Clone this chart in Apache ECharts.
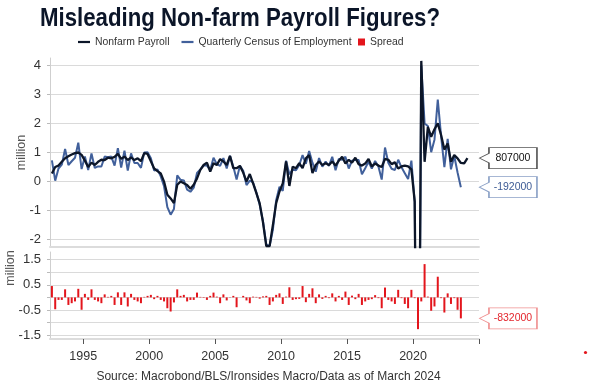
<!DOCTYPE html>
<html><head><meta charset="utf-8">
<script src="https://cdn.jsdelivr.net/npm/echarts@6/dist/echarts.min.js"></script>
<style>html,body{margin:0;padding:0;background:#fff;}#chart{width:589px;height:383px;}</style>
</head><body><div id="chart"></div>
<script>
// ---- data (millions, quarterly, first point = 1992 Q3) ----
const firstQuarter = { year: 1992, quarter: 3 };
const nonfarmPayroll = [
0.28,0.5,0.55,0.68,0.8,0.87,0.93,0.98,1.0,0.92,
0.72,0.5,0.65,0.57,0.68,0.75,0.74,0.82,0.8,0.85,
0.95,0.78,0.86,0.74,0.83,0.74,0.8,0.7,0.98,0.95,
0.7,0.45,0.36,0.28,0.0,-0.45,-0.58,-0.74,-0.11,0.0,
-0.06,-0.12,-0.25,-0.11,0.11,0.4,0.57,0.65,0.34,0.63,
0.57,0.77,0.69,0.57,0.88,0.46,0.46,0.54,0.31,0.0,
0.26,-0.06,-0.4,-0.75,-1.4,-2.22,-2.22,-1.5,-0.74,-0.34,
-0.06,0.69,-0.15,0.51,0.46,0.63,0.46,0.8,0.91,0.29,
0.57,0.69,0.57,0.63,0.57,0.69,0.55,0.72,0.85,0.62,
0.75,0.65,0.82,0.6,0.55,0.62,0.78,0.52,0.62,0.55,
0.5,0.78,0.75,0.6,0.66,0.45,0.52,0.55,0.52,0.42,
-0.68,-13.1,4.15,0.68,1.88,1.54,1.8,2.0,1.6,1.1,
1.31,0.68,0.91,0.8,0.64,0.63,0.807];
const quarterlyCensus = [
0.73,0.03,0.45,0.58,1.12,0.57,0.70,0.82,1.34,0.43,
0.86,0.40,0.97,0.47,0.52,0.52,0.86,0.84,0.86,0.55,
1.15,0.48,1.06,0.38,0.97,0.64,0.64,0.47,1.00,1.01,
0.80,0.38,0.42,0.18,-0.16,-0.88,-1.14,-0.94,0.21,0.06,
0.04,-0.28,-0.35,-0.21,0.30,0.42,0.55,0.55,0.40,0.82,
0.60,0.54,0.81,0.45,0.89,0.52,0.07,0.54,0.37,-0.12,
0.03,-0.03,-0.38,-0.80,-1.36,-2.16,-2.22,-1.66,-0.64,-0.18,
-0.32,0.72,0.25,0.41,0.39,0.57,0.91,0.61,1.05,0.65,
0.34,0.81,0.51,0.69,0.54,0.85,0.39,0.78,0.75,0.85,
0.45,0.72,0.75,0.74,0.25,0.46,0.68,0.45,0.71,0.52,
0.07,1.17,0.65,0.44,0.40,0.75,0.49,0.29,0.09,0.72,
-0.71,-14.36,3.99,2.00,1.91,1.01,1.44,2.82,1.57,0.50,
1.47,0.42,0.88,0.31,-0.192];
const spread = [
0.45,-0.47,-0.1,-0.1,0.32,-0.3,-0.23,-0.16,0.34,-0.49,
0.14,-0.1,0.32,-0.1,-0.16,-0.23,0.12,0.02,0.06,-0.3,
0.2,-0.3,0.2,-0.36,0.14,-0.1,-0.16,-0.23,0.02,0.06,
0.1,-0.07,0.06,-0.1,-0.16,-0.43,-0.56,-0.2,0.32,0.06,
0.1,-0.16,-0.1,-0.1,0.19,0.02,-0.02,-0.1,0.06,0.19,
0.03,-0.23,0.12,-0.12,0.01,0.06,-0.39,0.0,0.06,-0.12,
-0.23,0.03,0.02,-0.05,0.04,0.06,-0.3,-0.16,0.1,0.16,
-0.26,0.03,0.4,-0.1,-0.07,-0.06,0.45,-0.19,0.14,0.36,
-0.23,0.12,-0.06,0.06,-0.03,0.16,-0.16,0.06,-0.1,0.23,
-0.3,0.07,-0.07,0.14,-0.3,-0.16,-0.1,-0.07,0.09,-0.03,
-0.43,0.39,-0.1,-0.16,-0.26,0.3,-0.03,-0.26,-0.43,0.3,
-0.03,-1.26,-0.16,1.32,0.03,-0.53,-0.36,0.82,-0.03,-0.6,
0.16,-0.26,-0.03,-0.49,-0.832];
const xTickYears = [1995, 2000, 2005, 2010, 2015, 2020, 2025];
const xLabelYears = [1995, 2000, 2005, 2010, 2015, 2020];
const topTicks = [-2, -1, 0, 1, 2, 3, 4];
const bottomTicks = [-1.5, -1, -0.5, 0, 0.5, 1, 1.5];
const bottomLabels = [-1.5, -0.5, 0.5, 1.5];
const titleText = 'Misleading Non-farm Payroll Figures?';
const sourceText = 'Source: Macrobond/BLS/Ironsides Macro/Data as of March 2024';

// ---- helpers ----
function quarterMid(i) {
  return firstQuarter.year + (firstQuarter.quarter - 1) * 0.25 + 0.125 + i * 0.25;
}
const RF = '"Liberation Sans", Arial, sans-serif';
const TITLE_FONT = 'bold 26px ' + RF;
const titleScale = (function () {
  const c = document.createElement('canvas').getContext('2d');
  c.font = TITLE_FONT;
  return 400 / c.measureText(titleText).width;
})();

const BLACK = '#0c1629', BLUE = '#41609b', RED = '#e3151c';
const CALLOUT = 'path://M0,10.5 L9.5,5.7 L9.5,0 L57.5,0 L57.5,21 L9.5,21 L9.5,15.3 Z';
const LINE_ICON = 'path://M0,0H12V2.2H0Z';
const X_MIN = 1992.48, X_MAX = 2025;
const legendText = { fontFamily: RF, fontSize: 10.4, color: '#333' };

function callout(value, border, textColor) {
  return {
    symbol: CALLOUT, symbolSize: [57.5, 21], symbolOffset: [29.2, 0], symbolKeepAspect: false,
    silent: true, animation: false,
    itemStyle: { color: '#fff', borderColor: border, borderWidth: 1 },
    label: { show: true, position: 'inside', offset: [4.7, 0], formatter: String(Math.round(value * 1e6)),
             fontFamily: RF, fontSize: 10.5, color: textColor },
    data: [{ coord: [X_MAX, value] }]
  };
}

const chart = echarts.init(document.getElementById('chart'), null, { renderer: 'canvas' });
const option = {
  animation: false,
  backgroundColor: '#fff',
  legend: [
    { left: 78, top: 37, padding: 0, itemWidth: 12, itemHeight: 7, itemGap: 12, textStyle: legendText,
      data: [{ name: 'Nonfarm Payroll', icon: LINE_ICON }, { name: 'Quarterly Census of Employment', icon: LINE_ICON }] },
    { left: 358, top: 37, padding: 0, itemWidth: 7, itemHeight: 7, textStyle: legendText,
      data: [{ name: 'Spread', icon: 'rect' }] }
  ],
  grid: [
    { left: 50, top: 58, width: 429, height: 189 },
    { left: 50, top: 252, width: 429, height: 87 }
  ],
  xAxis: [
    { type: 'value', gridIndex: 0, min: X_MIN, max: X_MAX,
      axisLine: { show: true, onZero: false, lineStyle: { color: '#dcdcdc', width: 2 } },
      axisTick: { show: false }, axisLabel: { show: false }, splitLine: { show: false } },
    { type: 'value', gridIndex: 1, min: X_MIN, max: X_MAX,
      axisLine: { show: true, onZero: false, lineStyle: { color: '#dcdcdc', width: 2 } },
      axisTick: { show: true, length: 5, lineStyle: { color: '#555' }, customValues: xTickYears },
      axisLabel: { show: true, customValues: xLabelYears, margin: 11, fontFamily: RF, fontSize: 12.5, color: '#333',
                   formatter: v => String(Math.round(v)) },
      splitLine: { show: false } }
  ],
  yAxis: [
    { type: 'value', gridIndex: 0, min: -2.25, max: 4.25,
      axisLine: { show: true, lineStyle: { color: '#cfcfcf' } },
      axisTick: { show: true, length: 3, lineStyle: { color: '#bbb' }, customValues: topTicks },
      axisLabel: { show: true, customValues: topTicks, margin: 9, fontFamily: RF, fontSize: 13, color: '#333',
                   formatter: v => String(v) },
      splitLine: { show: true, lineStyle: { color: '#dadada', width: 1 } } },
    { type: 'value', gridIndex: 1, min: -1.65, max: 1.8,
      axisLine: { show: true, lineStyle: { color: '#cfcfcf' } },
      axisTick: { show: true, length: 3, lineStyle: { color: '#bbb' }, customValues: bottomTicks },
      axisLabel: { show: true, customValues: bottomLabels, margin: 9, fontFamily: RF, fontSize: 13, color: '#333',
                   formatter: v => String(v) },
      splitLine: { show: true, lineStyle: { color: '#dadada', width: 1 } } }
  ],
  series: [
    { name: 'Quarterly Census of Employment', type: 'line', xAxisIndex: 0, yAxisIndex: 0, z: 2,
      data: quarterlyCensus.map((v, i) => [quarterMid(i), v]),
      symbol: 'none', lineStyle: { color: BLUE, width: 2 }, itemStyle: { color: BLUE },
      markPoint: callout(quarterlyCensus[quarterlyCensus.length - 1], '#8aa0c6', '#3d5b95') },
    { name: 'Nonfarm Payroll', type: 'line', xAxisIndex: 0, yAxisIndex: 0, z: 3,
      data: nonfarmPayroll.map((v, i) => [quarterMid(i), v]),
      symbol: 'none', lineStyle: { color: BLACK, width: 2.3 }, itemStyle: { color: BLACK },
      markPoint: callout(nonfarmPayroll[nonfarmPayroll.length - 1], '#555', '#111') },
    { name: 'Spread', type: 'bar', xAxisIndex: 1, yAxisIndex: 1,
      data: spread.map((v, i) => [quarterMid(i), v]),
      barWidth: 2, itemStyle: { color: RED },
      markPoint: callout(spread[spread.length - 1], '#f09090', '#e3262d') }
  ],
  graphic: [
    { type: 'text', x: 40, y: 18.5, scaleX: titleScale, silent: true,
      style: { text: titleText, align: 'left', verticalAlign: 'middle', font: TITLE_FONT, fill: '#0b1528' } },
    { type: 'text', x: 21.5, y: 152.5, rotation: Math.PI / 2, silent: true,
      style: { text: 'million', align: 'center', verticalAlign: 'middle', font: '12.5px ' + RF, fill: '#555' } },
    { type: 'text', x: 11, y: 268, rotation: Math.PI / 2, silent: true,
      style: { text: 'million', align: 'center', verticalAlign: 'middle', font: '12.5px ' + RF, fill: '#555' } },
    { type: 'text', x: 268.5, y: 377, silent: true,
      style: { text: sourceText, align: 'center', verticalAlign: 'middle', font: '12px ' + RF, fill: '#333' } },
    { type: 'circle', shape: { cx: 585.5, cy: 352.5, r: 1.6 }, style: { fill: RED } }
  ]
};
chart.setOption(option);
</script>
</body></html>
